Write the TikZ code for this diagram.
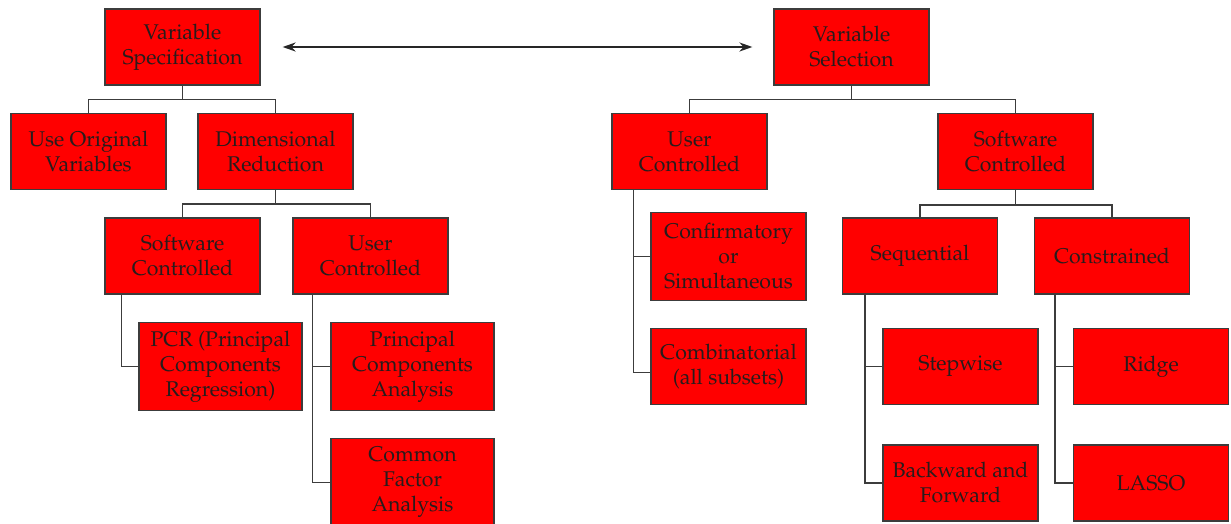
\documentclass[tikz,border=0pt]{standalone}
\IfFileExists{mathpazo.sty}{\usepackage[T1]{fontenc}\usepackage{mathpazo}}{\usepackage{fontspec}\setmainfont{Liberation Serif}}
\usetikzlibrary{arrows.meta}
\definecolor{boxred}{RGB}{255,0,0}
\definecolor{edgegray}{RGB}{60,60,60}
\definecolor{txt}{RGB}{40,28,28}
\begin{document}
\begin{tikzpicture}[x=1pt,y=-1pt,
  box/.style={draw=edgegray, line width=1.2pt, fill=boxred, text=txt, align=center,
    inner sep=0pt, minimum width=155pt, minimum height=76pt,
    font=\fontsize{21.3}{25}\selectfont},
  wide/.style={minimum width=163pt, minimum height=88pt},
  tall/.style={minimum height=88pt},
  link/.style={draw=edgegray, line width=1.3pt},
  biarrow/.style={draw=black!85, line width=2.2pt,
    {Stealth[length=13pt,width=9pt]}-{Stealth[length=13pt,width=9pt]}}]
\useasboundingbox (0,0) rectangle (1231,524);

% left tree
\node[box] (vs)  at (182.5,47) {Variable\\Specification};
\node[box] (uov) at (88.5,151.5)   {Use Original\\Variables};
\node[box] (dr)  at (275.5,151.5)  {Dimensional\\Reduction};
\node[box] (sc)  at (182.5,256) {Software\\Controlled};
\node[box] (uc)  at (370.5,256) {User\\Controlled};
\node[box,wide] (pcr) at (220.5,366.5) {PCR (Principal\\Components\\Regression)};
\node[box,wide] (pca) at (412.5,366.5) {Principal\\Components\\Analysis};
\node[box,wide] (cfa) at (412.5,482.5) {Common\\Factor\\Analysis};

% right tree
\node[box] (vsel) at (851.5,47) {Variable\\Selection};
\node[box] (uc2)  at (689.5,151.5)  {User\\Controlled};
\node[box] (swc)  at (1015.5,151.5) {Software\\Controlled};
\node[box,tall] (conf) at (728.5,256.5) {Confirmatory\\or\\Simultaneous};
\node[box] (comb) at (728.5,366.5) {Combinatorial\\(all subsets)};
\node[box] (seq)  at (920,256)  {Sequential};
\node[box] (con)  at (1112,256) {Constrained};
\node[box] (stepw) at (960.5,366.5) {Stepwise};
\node[box] (bf)   at (960.5,483) {Backward and\\Forward};
\node[box] (ridge) at (1151,366.5)  {Ridge};
\node[box] (lasso) at (1151,483) {LASSO};

% arrow
\draw[biarrow, shorten <=22pt, shorten >=21pt] (vs.east) -- (vsel.west);

% left connectors
\draw[link] (vs.south) -- ++(0,14) -| (uov.north);
\draw[link] (vs.south) -- ++(0,14) -| (dr.north);
\draw[link] (dr.south) -- ++(0,14) -| (sc.north);
\draw[link] (dr.south) -- ++(0,14) -| (uc.north);
\draw[link] ([xshift=17pt]sc.south west) |- (pcr.west);
\draw[link] ([xshift=20pt]uc.south west) |- (pca.west);
\draw[link] ([xshift=20pt]uc.south west) |- (cfa.west);

% right connectors
\draw[link] (vsel.south) -- ++(0,14) -| (uc2.north);
\draw[link] (vsel.south) -- ++(0,14) -| (swc.north);
\draw[link] (swc.south) -- ++(0,15) -| (seq.north);
\draw[link] (swc.south) -- ++(0,15) -| (con.north);
\draw[link] ([xshift=22pt]uc2.south west) |- (conf.west);
\draw[link] ([xshift=22pt]uc2.south west) |- ([yshift=-6pt]comb.west);
\draw[link] ([xshift=23pt]seq.south west) |- (stepw.west);
\draw[link] ([xshift=23pt]seq.south west) |- (bf.west);
\draw[link] ([xshift=21pt]con.south west) |- (ridge.west);
\draw[link] ([xshift=21pt]con.south west) |- (lasso.west);
\end{tikzpicture}
\end{document}
